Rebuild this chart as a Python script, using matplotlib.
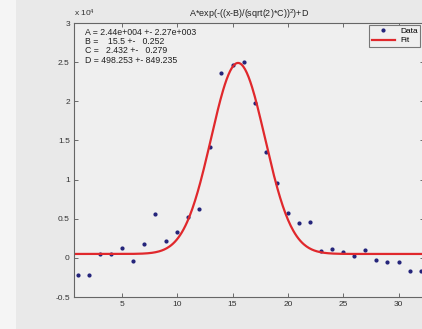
import matplotlib
matplotlib.use("Agg")
import matplotlib.pyplot as plt
import numpy as np
from matplotlib.patches import Rectangle

# ── Datos medidos ─────────────────────────────
x_data = [1, 2, 3, 4, 5, 6, 7, 8, 9, 10, 11, 12, 13, 14, 15, 16,
          17, 18, 19, 20, 21, 22, 23, 24, 25, 26, 27, 28, 29, 30, 31, 32]
y_data = [-2160, -2160, 440, 440, 1200, -340, 1740, 5600, 2130, 3300,
          5200, 6200, 14150, 23600, 24600, 25000, 19800, 13500, 9570,
          5700, 4400, 4600, 870, 1100, 700, 300, 1040, -260, -470,
          -560, -1640, -1690]

# Parámetros del ajuste mostrados en el gráfico
A, B, C, D = 2.44e4, 15.5, 2.432, 498.253
fit_lines = [
    "A = 2.44e+004 +- 2.27e+003",
    "B =    15.5 +-   0.252",
    "C =   2.432 +-   0.279",
    "D = 498.253 +- 849.235",
]
title = r"A*exp(-((x-B)/(sqrt(2)*C))$^2$)+D"
x_ticks = [5, 10, 15, 20, 25, 30]
y_ticks = [-0.5, 0, 0.5, 1, 1.5, 2, 2.5, 3]

plt.rcParams.update({
    "font.family": "sans-serif",
    "font.sans-serif": ["Liberation Sans", "DejaVu Sans"],
    "font.size": 6,
    "mathtext.default": "regular",
})

W, H = 422, 329
fig = plt.figure(figsize=(W / 100, H / 100), dpi=100, facecolor="#E9E9E9")
fig.patches.append(Rectangle((0, 0), 16 / W, 1, transform=fig.transFigure,
                             facecolor="#F5F5F5", edgecolor="none", zorder=-1))

left, right, top, bottom = 74, 424, 23, 297
ax = fig.add_axes([left / W, 1 - bottom / H, (right - left) / W, (bottom - top) / H])
ax.set_facecolor("#EFEFEF")

xlim = (0.68, 32.3)
xs = np.linspace(xlim[0], xlim[1], 400)
fit = A * np.exp(-((xs - B) / (np.sqrt(2) * C)) ** 2) + D

ax.plot(np.array(x_data), np.array(y_data) / 1e4, ".", color="#23237a",
        markersize=4, label="Data")
ax.plot(xs, fit / 1e4, "-", color="#e0282c", linewidth=1.6, label="Fit")

ax.set_xlim(*xlim)
ax.set_ylim(-0.5, 3)
ax.set_xticks(x_ticks)
ax.set_yticks(y_ticks)
ax.set_yticklabels(["-0.5", "0", "0.5", "1", "1.5", "2", "2.5", "3"])
ax.tick_params(direction="in", length=3, width=0.6, colors="#555555",
               labelcolor="#333333", labelsize=6, top=True, right=True, pad=3)
for s in ax.spines.values():
    s.set_color("#666666")
    s.set_linewidth(0.8)

ax.text(0.0, 1.015, r"x 10$^4$", transform=ax.transAxes, fontsize=6,
        color="#333333", ha="left", va="bottom")
ax.set_title(title, fontsize=6.5, color="#222222", pad=4)

ax.text(0.032, 0.983, "\n".join(fit_lines), transform=ax.transAxes,
        fontsize=6.3, color="#222222", va="top", ha="left", linespacing=1.05)

leg = ax.legend(loc="upper right", fontsize=6, frameon=True, fancybox=False,
                edgecolor="#777777", facecolor="#EFEFEF", framealpha=1,
                handlelength=2.8, handletextpad=0.6, borderpad=0.3,
                labelspacing=0.15, borderaxespad=0,
                bbox_to_anchor=(0.9886, 0.9927))
leg.get_frame().set_linewidth(0.8)

fig.savefig("out.png", dpi=100, facecolor=fig.get_facecolor())
